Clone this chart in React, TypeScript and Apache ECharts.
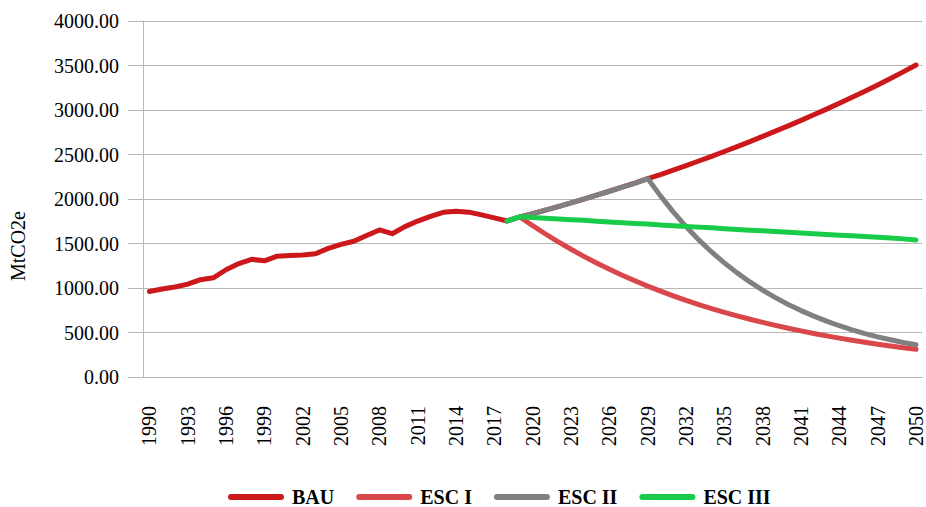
import React, { useEffect, useRef } from "react";
import * as echarts from "echarts";

const years: string[] = [];
for (let y = 1990; y <= 2050; y++) years.push(String(y));

// BAU history 1990-2018
const bauHistory = [
  960, 988, 1012, 1043, 1093, 1115, 1205, 1275, 1322, 1305,
  1358, 1366, 1372, 1385, 1445, 1490, 1525, 1590, 1652, 1610,
  1690, 1752, 1805, 1850, 1862, 1852, 1822, 1788, 1753,
];
// BAU projection 2019-2050
const bauProjection = [
  1798, 1834, 1874, 1915, 1957, 1999, 2043, 2087, 2133, 2179,
  2230, 2275, 2325, 2375, 2427, 2480, 2534, 2589, 2645, 2703,
  2762, 2822, 2883, 2946, 3010, 3076, 3143, 3211, 3281, 3353,
  3428, 3505,
];
// ESC I 2018-2050
const esc1 = [
  1753, 1798, 1700, 1607, 1518, 1435, 1356, 1281, 1210, 1144,
  1081, 1021, 965, 912, 862, 814, 769, 727, 687, 649,
  613, 580, 548, 518, 489, 462, 437, 413, 390, 369,
  348, 329, 311,
];
// ESC II 2018-2050
const esc2 = [
  1753, 1798, 1834, 1874, 1915, 1957, 1999, 2043, 2087, 2133,
  2179, 2230, 2035, 1855, 1690, 1540, 1405, 1282, 1170, 1068,
  975, 892, 815, 746, 684, 627, 576, 530, 488, 451,
  418, 388, 362,
];
// ESC III 2018-2050
const esc3 = [
  1753, 1800, 1792, 1784, 1776, 1768, 1760, 1750, 1742, 1734,
  1726, 1718, 1708, 1700, 1692, 1684, 1676, 1666, 1658, 1650,
  1642, 1634, 1626, 1618, 1610, 1602, 1594, 1586, 1578, 1570,
  1562, 1552, 1540,
];

const seriesNames = ["BAU", "ESC I", "ESC II", "ESC III"];
const seriesColors = ["#CC171B", "#D9474B", "#808080", "#18CC4A"];

const pad = (arr: number[], startYear: number): (number | null)[] => {
  const out: (number | null)[] = [];
  for (let i = 0; i < years.length; i++) {
    const idx = 1990 + i - startYear;
    out.push(idx >= 0 && idx < arr.length ? arr[idx] : null);
  }
  return out;
};

const FONT = "Liberation Serif";
const GRID_COLOR = "#B8B8B8";

export default function App() {
  const ref = useRef<HTMLDivElement>(null);
  useEffect(() => {
    document.body.style.margin = "0";
    if (!ref.current) return;
    const chart = echarts.init(ref.current, undefined, { renderer: "svg" });
    const dataSets = [
      pad([...bauHistory, ...bauProjection], 1990),
      pad(esc1, 2018),
      pad(esc2, 2018),
      pad(esc3, 2018),
    ];
    chart.setOption({
      animation: false,
      backgroundColor: "#ffffff",
      textStyle: { fontFamily: FONT },
      grid: { left: 143, right: 3, top: 21, bottom: 130, containLabel: false },
      xAxis: {
        type: "category",
        data: years,
        boundaryGap: true,
        axisLine: { show: true, lineStyle: { color: GRID_COLOR, width: 1 } },
        axisTick: { show: false },
        axisLabel: {
          interval: 2,
          rotate: 90,
          margin: 29,
          color: "#000",
          fontSize: 20,
          fontFamily: FONT,
        },
        splitLine: { show: false },
      },
      yAxis: {
        type: "value",
        min: 0,
        max: 4000,
        interval: 500,
        axisLine: { show: true, lineStyle: { color: GRID_COLOR, width: 1 } },
        axisTick: { show: true, length: 15, lineStyle: { color: GRID_COLOR } },
        axisLabel: {
          margin: 24,
          color: "#000",
          fontSize: 20,
          fontFamily: FONT,
          formatter: (v: number) => v.toFixed(2),
        },
        splitLine: { show: true, lineStyle: { color: GRID_COLOR, width: 1 } },
      },
      legend: {
        left: 228,
        top: 487,
        padding: 0,
        itemWidth: 56,
        itemHeight: 7,
        itemGap: 22,
        icon: "path://M3 0H53A3 3 0 0 1 53 6H3A3 3 0 0 1 3 0Z",
        textStyle: {
          color: "#000",
          fontSize: 20,
          fontWeight: "bold",
          fontFamily: FONT,
          padding: [0, 0, 0, 3],
        },
        data: seriesNames,
      },
      graphic: [
        {
          type: "text",
          x: 18,
          y: 246,
          rotation: Math.PI / 2,
          style: {
            text: "MtCO2e",
            fill: "#000",
            fontSize: 20,
            fontFamily: FONT,
            textAlign: "center",
            textVerticalAlign: "middle",
          },
        },
      ],
      series: seriesNames.map((name, i) => ({
        name,
        type: "line",
        data: dataSets[i],
        showSymbol: false,
        symbol: "none",
        connectNulls: false,
        color: seriesColors[i],
        lineStyle: { color: seriesColors[i], width: 5, cap: "round", join: "round" },
        itemStyle: { color: seriesColors[i] },
        z: 2 + i,
      })),
    });
    return () => chart.dispose();
  }, []);
  return <div ref={ref} style={{ width: 926, height: 507 }} />;
}
